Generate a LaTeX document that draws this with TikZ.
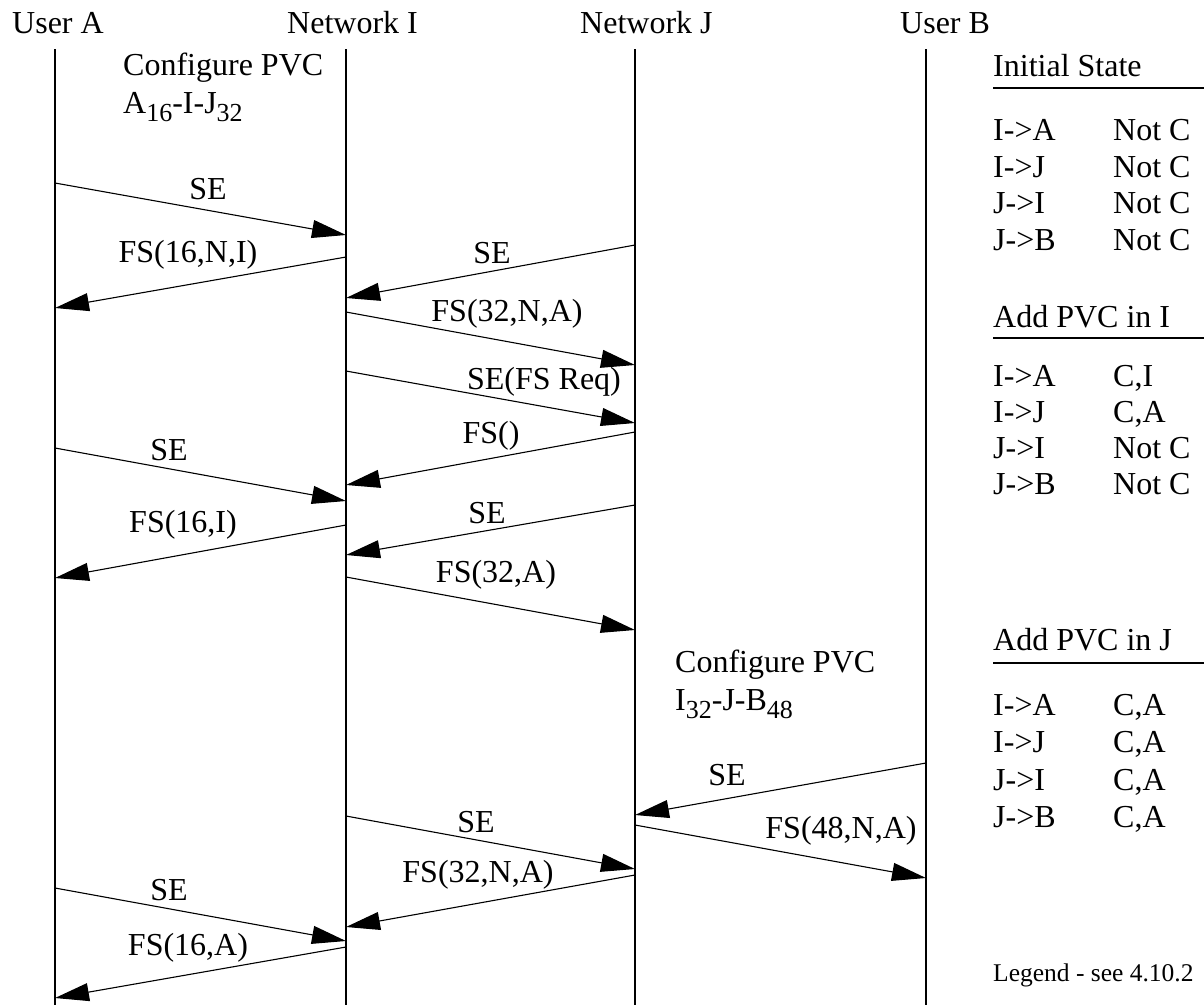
\documentclass[tikz,border=0pt]{standalone}
\usepackage{fontspec}
\setmainfont{Liberation Serif}
\usetikzlibrary{arrows.meta}
\newcommand\lowsub[1]{\raisebox{-8pt}{\fontsize{26}{26}\selectfont #1}}
\begin{document}
\begin{tikzpicture}[x=1pt,y=-1pt,
  lifeline/.style={line width=1.2pt},
  msg/.style={line width=1.1pt,-{Triangle[length=34pt,width=18pt]}},
  lbl/.style={inner sep=0pt,anchor=base,font=\fontsize{32}{36}\selectfont},
  txt/.style={inner sep=0pt,anchor=base west,font=\fontsize{32}{36}\selectfont},
  small/.style={inner sep=0pt,anchor=base west,font=\fontsize{25.5}{30}\selectfont},
  rule/.style={line width=2pt}]
\useasboundingbox (0,0) rectangle (1204,1005);
\def\xA{55}\def\xI{346}\def\xJ{635}\def\xB{926}

% parties and lifelines
\node[txt] (hA) at (12,33) {User A};
\node[txt] (hI) at (287,33) {Network I};
\node[txt] (hJ) at (580,33) {Network J};
\node[txt] (hB) at (900,33) {User B};
\foreach \n/\x in {A/\xA,I/\xI,J/\xJ,B/\xB}{
  \coordinate (\n top) at (\x,49);
  \coordinate (\n bot) at (\x,1005);
  \draw[lifeline] (\n top) -- (\n bot);
}

% configuration notes
\node[txt] (cfg1a) at (123,75) {Configure PVC};
\node[txt] (cfg1b) at (123,113) {A\lowsub{16}-I-J\lowsub{32}};
\node[txt] (cfg2a) at (675,672) {Configure PVC};
\node[txt] (cfg2b) at (675,710) {I\lowsub{32}-J-B\lowsub{48}};

% messages
\coordinate (s1) at (\xA,183);  \coordinate (t1) at (\xI,235);
\draw[msg] (s1) -- (t1);  \node[lbl] (l1) at (208,199) {SE};
\coordinate (s2) at (\xI,257);  \coordinate (t2) at (\xA,308);
\draw[msg] (s2) -- (t2);  \node[lbl] (l2) at (188,262) {FS(16,N,I)};
\coordinate (s3) at (\xJ,245);  \coordinate (t3) at (\xI,298);
\draw[msg] (s3) -- (t3);  \node[lbl] (l3) at (492,263) {SE};
\coordinate (s4) at (\xI,312);  \coordinate (t4) at (\xJ,365);
\draw[msg] (s4) -- (t4);  \node[lbl] (l4) at (507,321) {FS(32,N,A)};
\coordinate (s5) at (\xI,371);  \coordinate (t5) at (\xJ,423);
\draw[msg] (s5) -- (t5);  \node[lbl] (l5) at (544,389) {SE(FS Req)};
\coordinate (s6) at (\xJ,432);  \coordinate (t6) at (\xI,485);
\draw[msg] (s6) -- (t6);  \node[lbl] (l6) at (491,443) {FS()};
\coordinate (s7) at (\xA,448);  \coordinate (t7) at (\xI,501);
\draw[msg] (s7) -- (t7);  \node[lbl] (l7) at (169,460) {SE};
\coordinate (s8) at (\xJ,505);  \coordinate (t8) at (\xI,555);
\draw[msg] (s8) -- (t8);  \node[lbl] (l8) at (487,523) {SE};
\coordinate (s9) at (\xI,525);  \coordinate (t9) at (\xA,578);
\draw[msg] (s9) -- (t9);  \node[lbl] (l9) at (183,532) {FS(16,I)};
\coordinate (s10) at (\xI,577); \coordinate (t10) at (\xJ,630);
\draw[msg] (s10) -- (t10); \node[lbl] (l10) at (496,582) {FS(32,A)};
\coordinate (s11) at (\xB,763); \coordinate (t11) at (\xJ,815);
\draw[msg] (s11) -- (t11); \node[lbl] (l11) at (727,785) {SE};
\coordinate (s12) at (\xJ,825); \coordinate (t12) at (\xB,878);
\draw[msg] (s12) -- (t12); \node[lbl] (l12) at (841,838) {FS(48,N,A)};
\coordinate (s13) at (\xI,816); \coordinate (t13) at (\xJ,869);
\draw[msg] (s13) -- (t13); \node[lbl] (l13) at (476,832) {SE};
\coordinate (s14) at (\xJ,875); \coordinate (t14) at (\xI,927);
\draw[msg] (s14) -- (t14); \node[lbl] (l14) at (478,882) {FS(32,N,A)};
\coordinate (s15) at (\xA,888); \coordinate (t15) at (\xI,941);
\draw[msg] (s15) -- (t15); \node[lbl] (l15) at (169,900) {SE};
\coordinate (s16) at (\xI,947); \coordinate (t16) at (\xA,998);
\draw[msg] (s16) -- (t16); \node[lbl] (l16) at (188,955) {FS(16,A)};

% state tables
\node[txt] (st1) at (993,76) {Initial State};
\coordinate (r1a) at (993,88); \coordinate (r1b) at (1204,88);
\draw[rule] (r1a) -- (r1b);
\foreach \k/\y/\d/\v in {1/140/I->A/Not C,2/177/I->J/Not C,3/213/J->I/Not C,4/250/J->B/Not C}{
  \node[txt] (st1d\k) at (993,\y) {\d};
  \node[txt] (st1v\k) at (1113,\y) {\v};
}
\node[txt] (st2) at (993,327) {Add PVC in I};
\coordinate (r2a) at (993,338); \coordinate (r2b) at (1204,338);
\draw[rule] (r2a) -- (r2b);
\foreach \k/\y/\d/\v in {1/386/I->A/{C,I},2/422/I->J/{C,A},3/458/J->I/Not C,4/494/J->B/Not C}{
  \node[txt] (st2d\k) at (993,\y) {\d};
  \node[txt] (st2v\k) at (1113,\y) {\v};
}
\node[txt] (st3) at (993,650) {Add PVC in J};
\coordinate (r3a) at (993,663); \coordinate (r3b) at (1204,663);
\draw[rule] (r3a) -- (r3b);
\foreach \k/\y/\d/\v in {1/715/I->A/{C,A},2/752/I->J/{C,A},3/790/J->I/{C,A},4/827/J->B/{C,A}}{
  \node[txt] (st3d\k) at (993,\y) {\d};
  \node[txt] (st3v\k) at (1113,\y) {\v};
}
\node[small] (legend) at (993,981) {Legend - see 4.10.2};
\end{tikzpicture}
\end{document}
